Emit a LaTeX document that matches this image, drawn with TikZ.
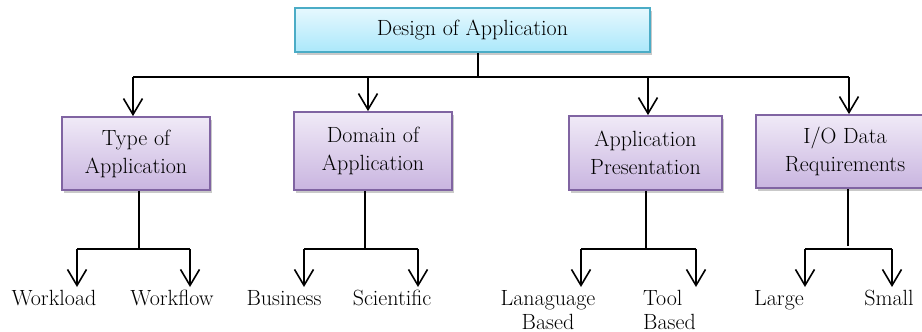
\documentclass[tikz,border=0pt]{standalone}
\usepackage{fontspec}
\usetikzlibrary{arrows.meta,shadows}
\definecolor{cyanborder}{HTML}{4BACC6}
\definecolor{cyantop}{HTML}{E6F8FE}
\definecolor{cyanbot}{HTML}{ABE8FB}
\definecolor{purpborder}{HTML}{8064A2}
\definecolor{purptop}{HTML}{F0EAF7}
\definecolor{purpbot}{HTML}{C9B5E0}
\tikzset{
  topbox/.style={draw=cyanborder, line width=1.8pt, top color=cyantop, bottom color=cyanbot,
    drop shadow={shadow xshift=2pt, shadow yshift=-3pt, opacity=0.3, fill=black!70},
    font=\fontsize{22}{26}\selectfont, inner sep=0pt, align=center},
  catbox/.style={draw=purpborder, line width=1.8pt, top color=purptop, bottom color=purpbot,
    drop shadow={shadow xshift=2pt, shadow yshift=-3pt, opacity=0.3, fill=black!70},
    font=\fontsize{22}{28}\selectfont, inner sep=0pt, align=center},
  leaf/.style={font=\fontsize{22}{24}\selectfont, anchor=north, inner sep=3pt},
  ln/.style={line width=1.6pt, black},
  arr/.style={ln, -{Straight Barb[length=16pt,width=19pt]}},
}
\begin{document}
\begin{tikzpicture}[x=1pt,y=-1pt]
\useasboundingbox (0,0) rectangle (922,332);
% boxes
\node[topbox, minimum width=355pt, minimum height=44pt] (top) at (472.5,30) {Design of Application};
\node[catbox, minimum width=148pt, minimum height=73pt] (type) at (136,153.5) {Type of\\Application};
\node[catbox, minimum width=158pt, minimum height=78pt] (dom) at (373,151) {Domain of\\Application};
\node[catbox, minimum width=153pt, minimum height=74pt] (pres) at (645.5,153) {Application\\Presentation};
\node[catbox, minimum width=178pt, minimum height=73pt] (io) at (845,151.5) {I/O Data\\Requirements};
% leaves
\node[leaf] (wl) at (54,287) {Workload};
\node[leaf] (wf) at (172,287) {Workflow};
\node[leaf] (bu) at (284,287) {Business};
\node[leaf] (sc) at (392,287) {Scientific};
\node[leaf, align=center] (lb) at (548,287) {Lanaguage\\Based};
\node[leaf, align=left, anchor=north west] (tb) at (640,287) {Tool\\Based};
\node[leaf] (lg) at (779,287) {Large};
\node[leaf] (sm) at (889,287) {Small};
% top level connectors
\coordinate (s0) at (478,77);
\coordinate (a1) at (133,77);
\coordinate (a2) at (368,77);
\coordinate (a3) at (648,77);
\coordinate (a4) at (849,77);
\draw[ln] (s0 |- top.south) -- (s0);
\draw[ln] (a1) -- (a4);
\draw[arr] (a1) -- (a1 |- type.north);
\draw[arr] (a2) -- (a2 |- dom.north);
\draw[arr] (a3) -- (a3 |- pres.north);
\draw[arr] (a4) -- (a4 |- io.north);
% Type
\coordinate (ts) at (139,249);
\coordinate (t1) at (77,249);
\coordinate (t2) at (190,249);
\draw[ln] (ts |- type.south) -- (ts);
\draw[ln] (t1) -- (t2);
\draw[arr] (t1) -- (t1 |- wl.north);
\draw[arr] (t2) -- (t2 |- wf.north);
% Domain
\coordinate (ds) at (365,249);
\coordinate (d1) at (304,249);
\coordinate (d2) at (418,249);
\draw[ln] (ds |- dom.south) -- (ds);
\draw[ln] (d1) -- (d2);
\draw[arr] (d1) -- (d1 |- bu.north);
\draw[arr] (d2) -- (d2 |- sc.north);
% Presentation
\coordinate (ps) at (646,249);
\coordinate (p1) at (581,249);
\coordinate (p2) at (696,249);
\draw[ln] (ps |- pres.south) -- (ps);
\draw[ln] (p1) -- (p2);
\draw[arr] (p1) -- (p1 |- lb.north);
\draw[arr] (p2) -- (p2 |- tb.north);
% IO
\coordinate (is) at (848,246);
\coordinate (i1) at (805,249);
\coordinate (i2) at (892,249);
\draw[ln] (is |- io.south) -- (is);
\draw[ln] (i1) -- (i2);
\draw[arr] (i1) -- (i1 |- lg.north);
\draw[arr] (i2) -- (i2 |- sm.north);
\end{tikzpicture}
\end{document}
